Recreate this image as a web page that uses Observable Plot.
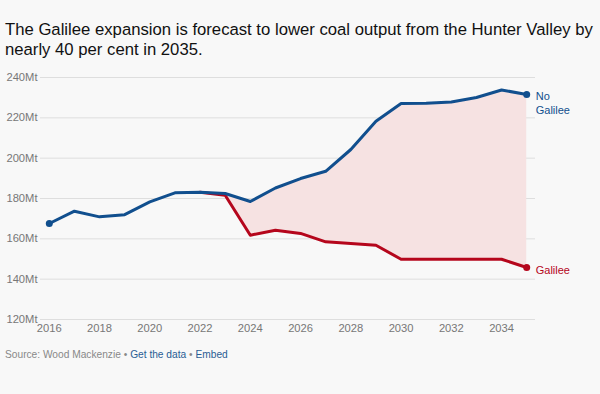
<!DOCTYPE html>
<html>
<head>
<meta charset="utf-8">
<script src="https://cdn.jsdelivr.net/npm/d3@7"></script>
<script src="https://cdn.jsdelivr.net/npm/@observablehq/plot@0.6"></script>
<style>
  html, body { margin: 0; padding: 0; background: #f8f8f8; }
  body { width: 600px; height: 394px; overflow: hidden; font-family: "Liberation Sans", Arial, sans-serif; }
  #title { font-size: 16.7px; line-height: 20px; color: #111; padding: 20px 0 0 5px; height: 42px; box-sizing: content-box; white-space: nowrap; }
  #chart { height: 282px; }
  #source { font-size: 10.2px; color: #888; padding: 5px 0 0 5px; }
  #source span.link { color: #2a5d94; }
</style>
</head>
<body>
<div id="title">The Galilee expansion is forecast to lower coal output from the Hunter Valley by<br>nearly 40 per cent in 2035.</div>
<div id="chart"></div>
<div id="source">Source: Wood Mackenzie • <span class="link">Get the data</span> • <span class="link">Embed</span></div>
<script>
const years = [2016, 2017, 2018, 2019, 2020, 2021, 2022, 2023, 2024, 2025, 2026, 2027, 2028, 2029, 2030, 2031, 2032, 2033, 2034, 2035];
const noGalilee = [167.6, 173.7, 170.9, 172.0, 178.3, 182.8, 183.1, 182.5, 178.5, 185.2, 189.9, 193.5, 204.3, 218.3, 227.1, 227.2, 227.9, 230.1, 233.8, 231.6];
const galilee = [null, null, null, null, null, null, 183.1, 181.6, 161.8, 164.3, 162.7, 158.5, 157.7, 156.8, 149.9, 149.9, 149.9, 149.9, 149.9, 145.8];
const yTicks = [120, 140, 160, 180, 200, 220, 240];
const xTicks = [2016, 2018, 2020, 2022, 2024, 2026, 2028, 2030, 2032, 2034];

const blue = "#114f8e";
const red = "#b5061c";

const blueData = years.map((y, i) => ({year: y, value: noGalilee[i]}));
const redData = years.map((y, i) => ({year: y, value: galilee[i]})).filter(d => d.value != null);
const bandData = years.map((y, i) => ({year: y, hi: noGalilee[i], lo: galilee[i]})).filter(d => d.lo != null);
const last = years.length - 1;

const chart = Plot.plot({
  width: 600,
  height: 282,
  marginLeft: 40,
  marginRight: 65,
  marginTop: 15,
  marginBottom: 25,
  style: {background: "transparent", fontFamily: "Liberation Sans, Arial, sans-serif", fontSize: "11.2px", color: "#777"},
  x: {domain: [2015.65, 2035.35], ticks: xTicks, tickFormat: d => String(d), tickSize: 0, tickPadding: 5, label: null},
  y: {domain: [120, 240], ticks: yTicks, tickFormat: d => d + "Mt", tickSize: 0, tickPadding: 3, label: null},
  marks: [
    Plot.ruleY(yTicks, {stroke: "#dedede", strokeWidth: 1}),
    Plot.areaY(bandData, {x: "year", y1: "lo", y2: "hi", fill: "#f6e2e2", fillOpacity: 1}),
    Plot.axisX({ticks: xTicks, tickFormat: d => String(d), tickSize: 0, tickPadding: 5, fill: "#777"}),
    Plot.axisY({ticks: yTicks, tickFormat: d => d + "Mt", tickSize: 0, tickPadding: 3, fill: "#777"}),
    Plot.line(redData, {x: "year", y: "value", stroke: red, strokeWidth: 3}),
    Plot.line(blueData, {x: "year", y: "value", stroke: blue, strokeWidth: 3}),
    Plot.dot([blueData[0], blueData[last]], {x: "year", y: "value", fill: blue, r: 3.5}),
    Plot.dot([redData[redData.length - 1]], {x: "year", y: "value", fill: red, r: 3.5}),
    Plot.text([blueData[last]], {x: "year", y: "value", text: () => "No\nGalilee", fill: blue, textAnchor: "start", lineAnchor: "top", lineHeight: 1.25, dx: 9, dy: -4, fontSize: 11}),
    Plot.text([redData[redData.length - 1]], {x: "year", y: "value", text: () => "Galilee", fill: red, textAnchor: "start", dx: 9, dy: 3, fontSize: 11})
  ]
});
document.getElementById("chart").appendChild(chart);
</script>
</body>
</html>
